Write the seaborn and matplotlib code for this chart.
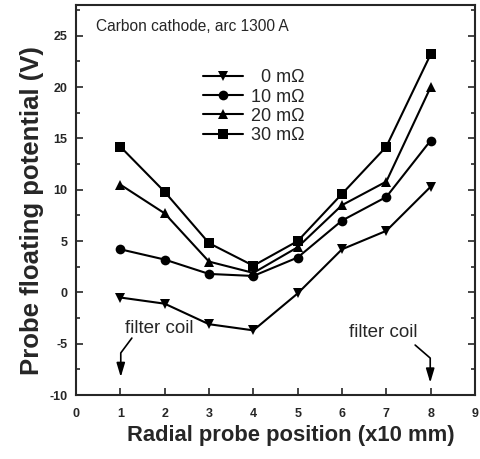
import pandas as pd
import matplotlib
matplotlib.use("Agg")
import matplotlib.pyplot as plt
import seaborn as sns

positions = [1, 2, 3, 4, 5, 6, 7, 8]
v_0mohm = [-0.5, -1.1, -3.1, -3.7, -0.1, 4.2, 6.0, 10.3]
v_10mohm = [4.2, 3.2, 1.8, 1.6, 3.4, 7.0, 9.3, 14.8]
v_20mohm = [10.5, 7.7, 3.0, 1.9, 4.4, 8.5, 10.8, 20.0]
v_30mohm = [14.2, 9.8, 4.8, 2.6, 5.0, 9.6, 14.2, 23.2]

series_labels = ["  0 m\u03a9", "10 m\u03a9", "20 m\u03a9", "30 m\u03a9"]
series_values = [v_0mohm, v_10mohm, v_20mohm, v_30mohm]
series_markers = ["v", "o", "^", "s"]
marker_sizes = [14, 11.4, 13.4, 10.9]

sns.set_style("ticks")
plt.rcParams["font.family"] = ["Liberation Sans", "DejaVu Sans"]
plt.rcParams["axes.unicode_minus"] = False

fig = plt.figure(figsize=(4.81, 4.59), dpi=100)
ax = fig.add_axes([0.158, 0.1394, 0.8295, 0.8496])

for label, values, marker, ms in zip(series_labels, series_values,
                                     series_markers, marker_sizes):
    df = pd.DataFrame({"pos": positions, "volt": values})
    sns.lineplot(data=df, x="pos", y="volt", ax=ax, color="black", lw=1.3,
                 marker=marker, markersize=ms, markeredgecolor="white",
                 markeredgewidth=3, label=label)

ax.set_xlim(0, 9)
ax.set_ylim(-10, 28)
ax.set_xticks(range(0, 10))
ax.set_yticks(range(-10, 30, 5))
ax.set_yticks([-7.5, -2.5, 2.5, 7.5, 12.5, 17.5, 22.5, 27.5], minor=True)
ax.tick_params(axis="y", which="both", direction="in", right=True, length=5,
               width=1.2, labelsize=9, pad=6)
ax.tick_params(axis="y", which="minor", length=3)
ax.tick_params(axis="x", direction="in", length=5, width=1.2, labelsize=9,
               pad=9)
for lab in ax.get_xticklabels() + ax.get_yticklabels():
    lab.set_fontweight("bold")
for sp in ax.spines.values():
    sp.set_linewidth(1.5)
    sp.set_visible(True)

ax.set_xlabel("Radial probe position (x10 mm)", fontsize=15.8,
              fontweight="bold", labelpad=4)
ax.set_ylabel("Probe floating potential (V)", fontsize=18.5,
              fontweight="bold", labelpad=4)
ax.xaxis.label.set_x(0.539)
ax.yaxis.label.set_y(0.474)

ax.text(0.45, 25.9, "Carbon cathode, arc 1300 A", fontsize=11.2, va="center")

# filter coil annotations
head = "-|>,head_length=0.6,head_width=0.18"
ax.text(1.1, -3.55, "filter coil", fontsize=13.5, va="center")
ax.plot([1.26, 1.01, 1.01], [-4.45, -5.9, -7.4], color="black", lw=1.2)
ax.annotate("", xy=(1.01, -8.25), xytext=(1.01, -7.2),
            arrowprops=dict(arrowstyle=head, color="black", lw=1.2,
                            mutation_scale=14, shrinkA=0, shrinkB=0))
ax.text(6.16, -3.95, "filter coil", fontsize=13.5, va="center")
ax.plot([7.65, 7.99, 7.99], [-5.13, -6.4, -7.9], color="black", lw=1.2)
ax.annotate("", xy=(7.99, -8.8), xytext=(7.99, -7.7),
            arrowprops=dict(arrowstyle=head, color="black", lw=1.2,
                            mutation_scale=14, shrinkA=0, shrinkB=0))

handles, labels = ax.get_legend_handles_labels()
for h in handles:
    h.set_markersize(7)
    h.set_markeredgewidth(0)
    h.set_linewidth(1.5)
leg = ax.legend(handles, labels, loc="upper left",
                bbox_to_anchor=(0.318, 0.835), frameon=False, fontsize=13,
                handlelength=2.2, handletextpad=0.45, labelspacing=0.12,
                borderpad=0, borderaxespad=0)

fig.savefig("out.png", dpi=100)
